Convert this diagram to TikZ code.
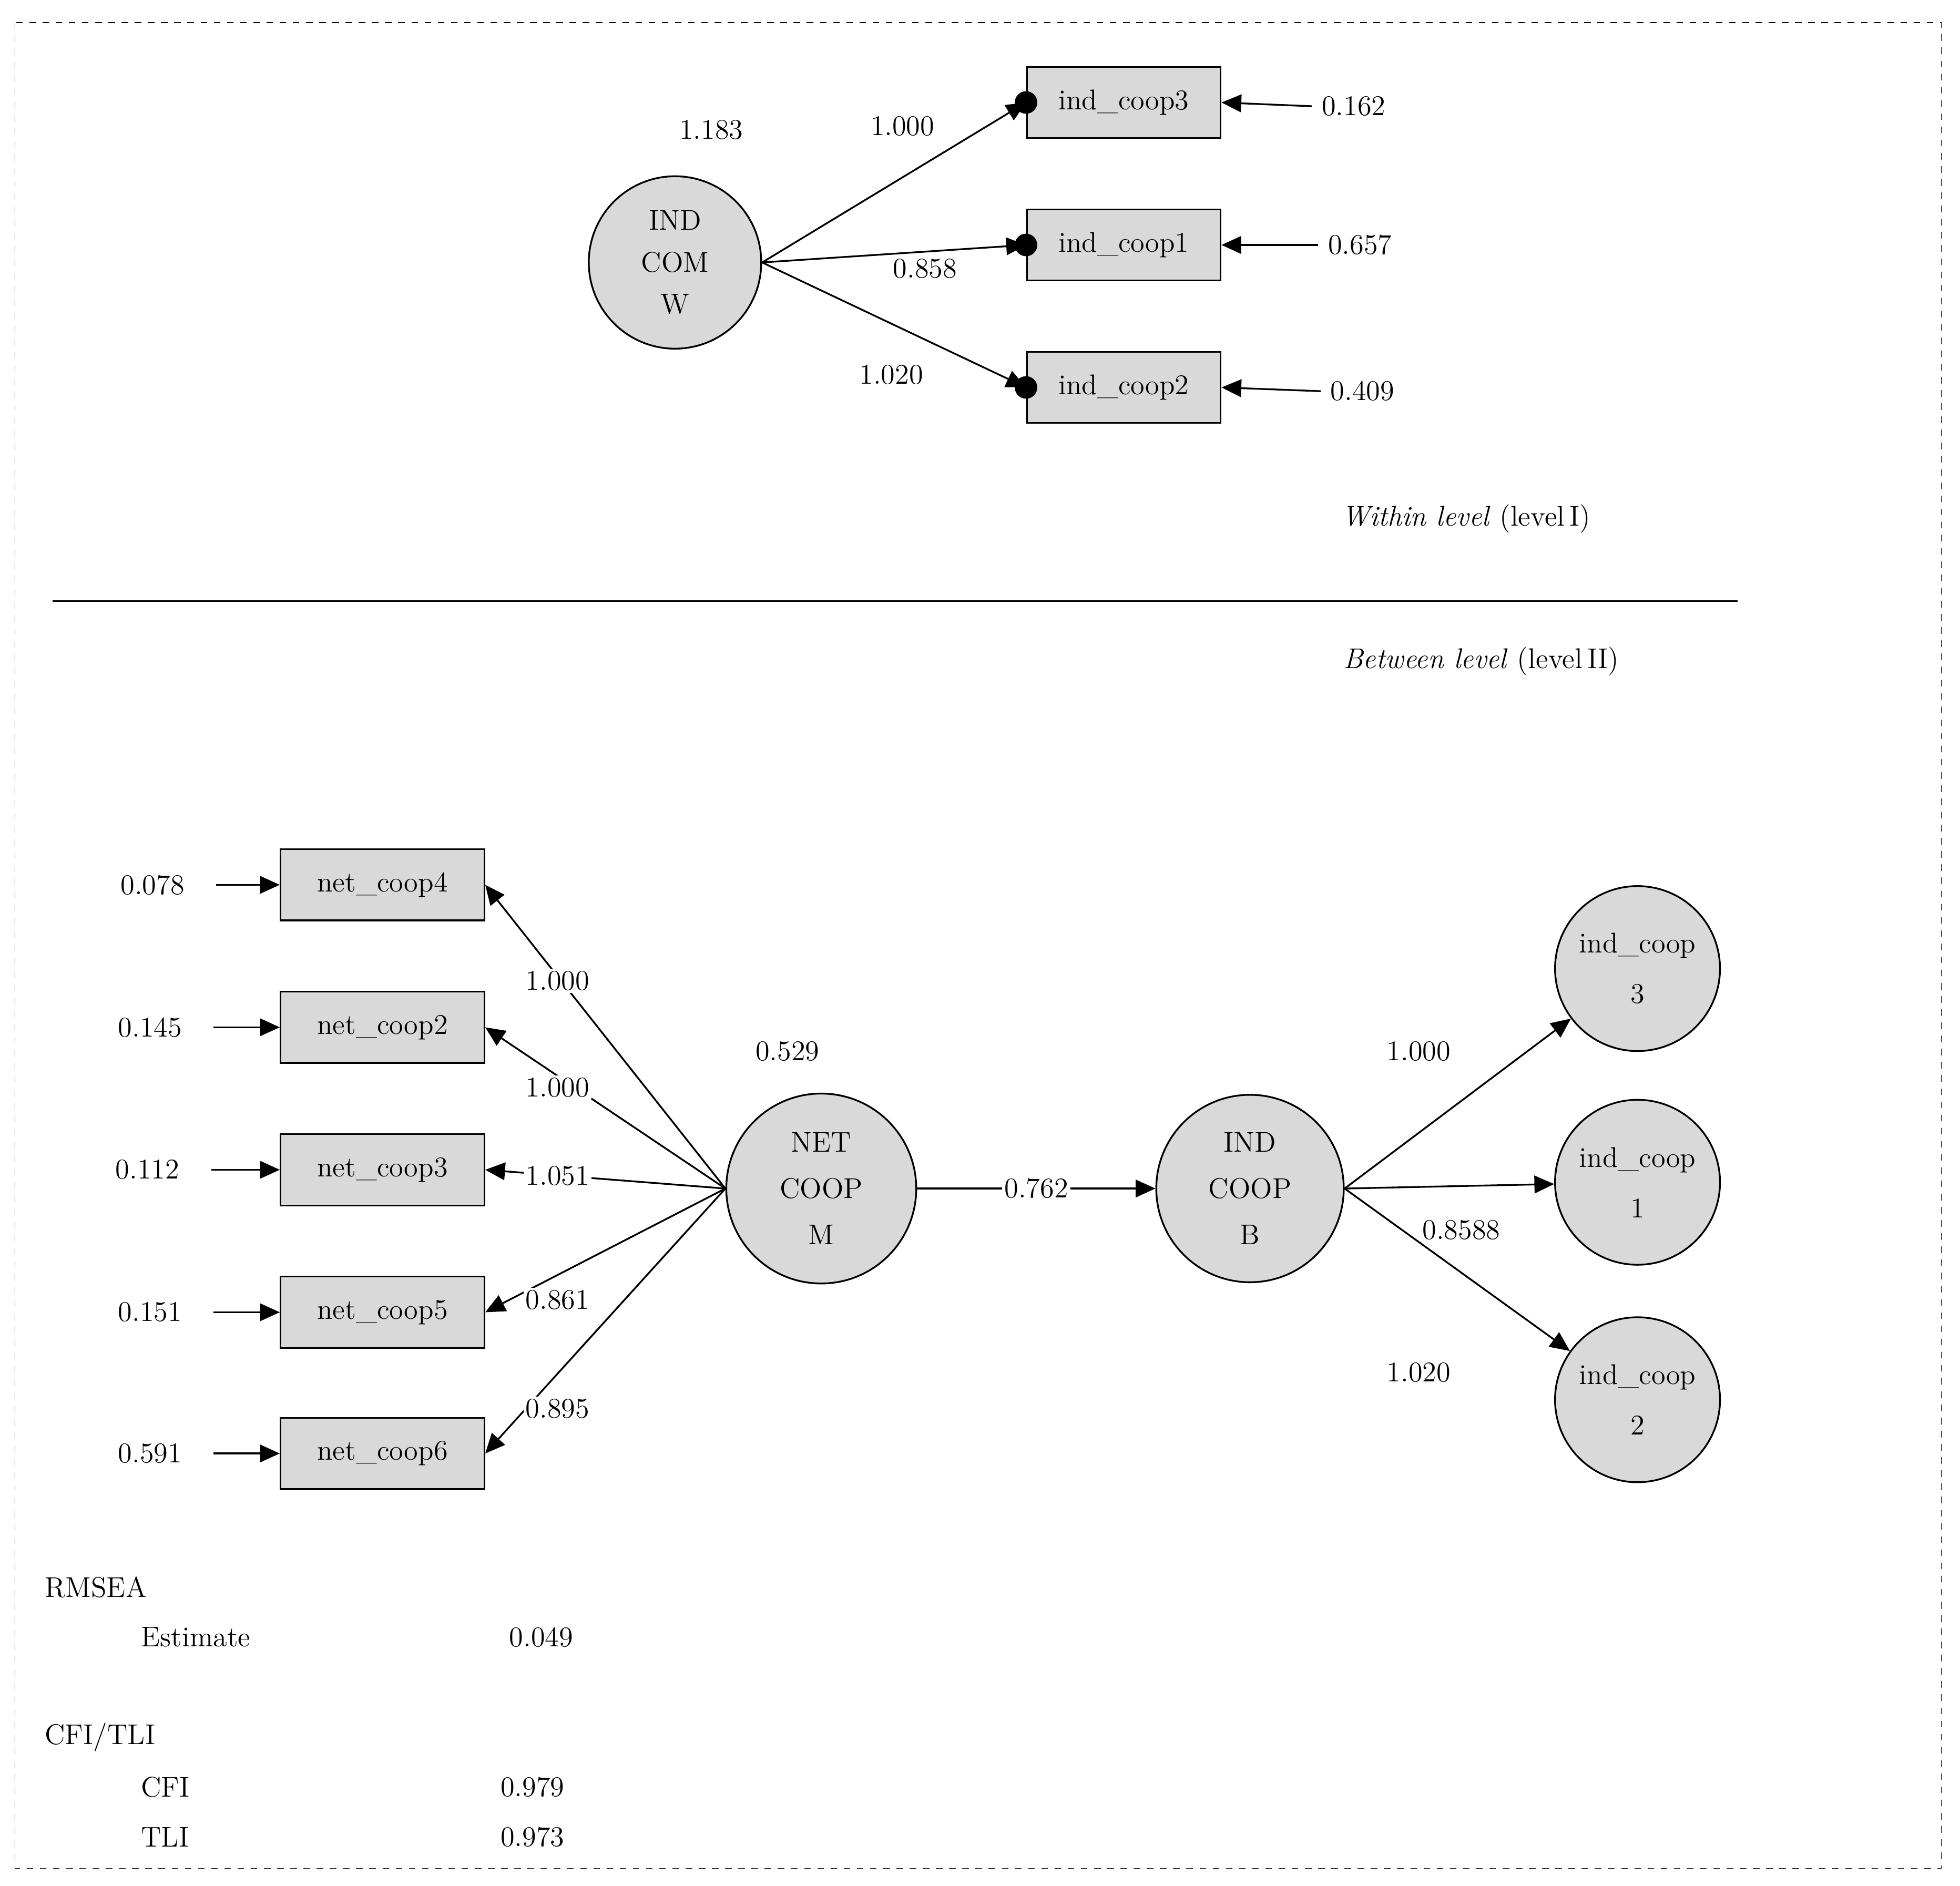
\documentclass[tikz,border=0pt]{standalone}
\usepackage{tikz}
\usetikzlibrary{arrows,arrows.meta,positioning}
\tikzstyle{obs} = [rectangle, draw, thick, fill=black!15, minimum width=3.1cm, minimum height=1.14cm]
\tikzstyle{lat} = [circle, draw, thick, fill=black!15, align=center, inner sep=0pt]
\tikzstyle{line} = [draw, thick, -{Triangle[length=9pt,width=8pt]}]
\tikzstyle{lbl} = [fill=white, inner sep=1pt]

\begin{document}
\fontsize{13}{15}\selectfont
\begin{tikzpicture}[x=0.02cm,y=-0.02cm]
    % frame
    \draw [dashed] (12,18) rectangle (1553,1495);
    \useasboundingbox (0,0) rectangle (1568,1509);
    % within level
    \node [lat, minimum size=2.76cm] (indw) at (540,210) {IND\\[4pt] COM\\[4pt] W};
    \node [obs] (ic3) at (899,82) {ind\_coop3};
    \node [obs] (ic1) at (899,196) {ind\_coop1};
    \node [obs] (ic2) at (899,310) {ind\_coop2};
    \foreach \b/\x/\y/\v in {ic3/1083/85/0.162, ic1/1088/196/0.657, ic2/1090/313/0.409} {
        \node (e\b) at (\x,\y) {\v};
        \coordinate (s\b) at ([xshift=-0.8cm]\b.east -| e\b.west);
        \path [line] (e\b.west) -- (\b.east);
        \path [line] (indw.east) -- (\b.west);
        \fill (\b.west) circle (0.18cm);
    }
    \node at (569,104) {1.183};
    \node at (722,101) {1.000};
    \node at (740,215) {0.858};
    \node at (713,300) {1.020};
    \node (within) at (1173,415) {\textit{Within level} (level\,I)};
    \coordinate (sepl) at (42,481);
    \coordinate (sepr) at (1390,481);
    \draw [thick] (sepl) -- (sepr);
    \node (between) at (1185,529) {\textit{Between level} (level\,II)};
    % between level
    \node [lat, minimum size=3.04cm] (netm) at (657,951) {NET\\[6pt] COOP\\[6pt] M};
    \node [lat, minimum size=3.0cm] (indb) at (1000,951) {IND\\[6pt] COOP\\[6pt] B};
    \foreach \b/\y/\e/\ex/\w/\wy in {4/708/0.078/122/1.000/785, 2/822/0.145/120/1.000/870, 3/936/0.112/118/1.051/941, 5/1050/0.151/120/0.861/1040, 6/1163/0.591/120/0.895/1127} {
        \node [obs, minimum width=3.26cm] (nc\b) at (306,\y) {net\_coop\b};
        \node (en\b) at (\ex,\y) {\e};
        \path [line] ([xshift=0.35cm]en\b.east) -- (nc\b.west);
        \path [line] (netm.west) -- (nc\b.east);
        \node [lbl] at (446,\wy) {\w};
    }
    \node at (630,841) {0.529};
    \path [line] (netm.east) -- node [lbl] {0.762} (indb.west);
    \node [lat, minimum size=2.64cm] (ib3) at (1310,775) {ind\_coop\\[8pt] 3};
    \node [lat, minimum size=2.64cm] (ib1) at (1310,946) {ind\_coop\\[8pt] 1};
    \node [lat, minimum size=2.64cm] (ib2) at (1310,1120) {ind\_coop\\[8pt] 2};
    \path [line] (indb.east) -- (ib3);
    \path [line] (indb.east) -- (ib1);
    \path [line] (indb.east) -- (ib2);
    \node at (1135,841) {1.000};
    \node at (1169,984) {0.8588};
    \node at (1135,1098) {1.020};
    % fit indices
    \node [anchor=west] (rmsea) at (28,1270) {RMSEA};
    \node [anchor=west] (est) at (105,1310) {Estimate};
    \node at (433,1310) {0.049};
    \node [anchor=west] (cfitli) at (28,1390) {CFI/TLI};
    \node [anchor=west] (cfi) at (105,1430) {CFI};
    \node at (426,1430) {0.979};
    \node [anchor=west] (tli) at (105,1470) {TLI};
    \node at (426,1470) {0.973};
\end{tikzpicture}
\end{document}
